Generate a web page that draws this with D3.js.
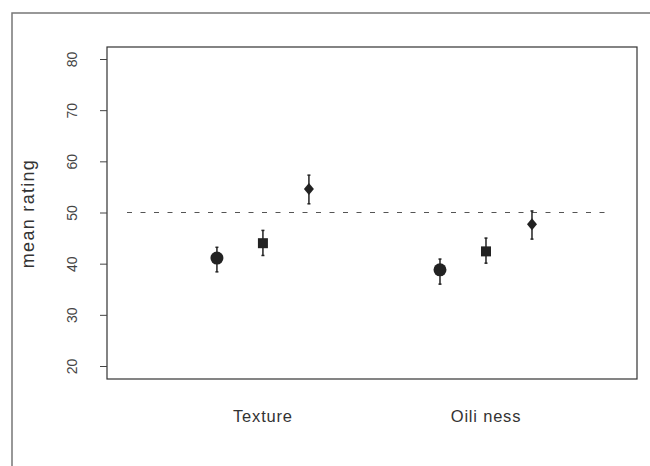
<!DOCTYPE html>
<html>
<head>
<meta charset="utf-8">
<script src="https://cdn.jsdelivr.net/npm/d3@7"></script>
<style>
  html, body { margin: 0; padding: 0; background: #fff; }
  svg { display: block; font-family: "Liberation Sans", Arial, sans-serif; }
</style>
</head>
<body>
<svg id="chart" width="650" height="466"></svg>
<script>
// Attributes rated and the three products shown for each
const categories = ["Texture", "Oiliness"];
const categoryLabels = ["Texture", "Oili ness"];
const products = ["circle", "square", "diamond"];

// Mean ratings with lower / upper error-bar limits, per product, per attribute
const meanValues  = [[41.1, 44.0, 54.6], [38.8, 42.4, 47.7]];
const lowerValues = [[38.4, 41.6, 51.7], [36.0, 40.1, 44.8]];
const upperValues = [[43.2, 46.5, 57.3], [40.9, 45.0, 50.3]];

const yTicks = [20, 30, 40, 50, 60, 70, 80];
const referenceLevel = 50;

const svg = d3.select("#chart");
const ink = "#222";

const box = { left: 107, right: 637, top: 47, bottom: 379 };

const x = d3.scalePoint().domain(categories).range([box.left, box.right])
  .padding(0.688).align(0.508);
const offset = d3.scalePoint().domain(products).range([-46, 46]);
const y = d3.scaleLinear().domain([20, 80]).range([366, 59]);

// Outer frame (left and top edges)
svg.append("path")
  .attr("d", "M12,466 L12,13 L650,13")
  .attr("fill", "none").attr("stroke", "#777").attr("stroke-width", 1.5);

// Plot box
svg.append("rect")
  .attr("x", box.left).attr("y", box.top)
  .attr("width", box.right - box.left).attr("height", box.bottom - box.top)
  .attr("fill", "none").attr("stroke", "#333").attr("stroke-width", 1.2);

// Y axis: short ticks attached to the box, rotated labels
const yAxis = d3.axisLeft(y).tickValues(yTicks).tickSize(7).tickPadding(21);
const gy = svg.append("g").attr("transform", `translate(${box.left},0)`).call(yAxis);
gy.select(".domain").remove();
gy.selectAll(".tick line").attr("stroke", "#444").attr("stroke-width", 1);
gy.selectAll(".tick text")
  .attr("font-size", 14).attr("fill", "#444")
  .attr("text-anchor", "middle")
  .attr("dy", null)
  .attr("x", null)
  .attr("transform", "translate(-35,0) rotate(-90)")
  .attr("dominant-baseline", "central");

// Y axis title
svg.append("text")
  .attr("transform", `translate(34,${y(50) + 1}) rotate(-90)`)
  .attr("text-anchor", "middle")
  .attr("font-size", 18).attr("fill", "#333")
  .attr("letter-spacing", 1.3)
  .text("mean rating");

// Category labels
categories.forEach((c, i) => {
  svg.append("text")
    .attr("x", x(c)).attr("y", 422)
    .attr("text-anchor", "middle")
    .attr("font-size", 16.5).attr("fill", "#333")
    .attr("letter-spacing", 0.8)
    .text(categoryLabels[i]);
});

// Dashed reference line
svg.append("line")
  .attr("x1", 127).attr("x2", 608)
  .attr("y1", y(referenceLevel)).attr("y2", y(referenceLevel))
  .attr("stroke", "#555").attr("stroke-width", 1)
  .attr("stroke-dasharray", "5,8.5");

// Error bars and markers
const points = [];
categories.forEach((c, i) => {
  products.forEach((p, j) => {
    points.push({
      cx: x(c) + offset(p), shape: p,
      mean: meanValues[i][j], lo: lowerValues[i][j], hi: upperValues[i][j]
    });
  });
});

const g = svg.append("g");
points.forEach(d => {
  g.append("line")
    .attr("x1", d.cx).attr("x2", d.cx)
    .attr("y1", y(d.lo)).attr("y2", y(d.hi))
    .attr("stroke", ink).attr("stroke-width", 1.5);
  [d.lo, d.hi].forEach(v => {
    g.append("line")
      .attr("x1", d.cx - 1.5).attr("x2", d.cx + 1.5)
      .attr("y1", y(v)).attr("y2", y(v))
      .attr("stroke", ink).attr("stroke-width", 1.5);
  });
  const cy = y(d.mean);
  if (d.shape === "circle") {
    g.append("circle").attr("cx", d.cx).attr("cy", cy).attr("r", 6.5).attr("fill", ink);
  } else if (d.shape === "square") {
    g.append("rect").attr("x", d.cx - 5).attr("y", cy - 5)
      .attr("width", 10).attr("height", 10).attr("fill", ink);
  } else {
    g.append("path")
      .attr("d", `M${d.cx},${cy - 6} L${d.cx + 5},${cy} L${d.cx},${cy + 6} L${d.cx - 5},${cy} Z`)
      .attr("fill", ink);
  }
});
</script>
</body>
</html>
